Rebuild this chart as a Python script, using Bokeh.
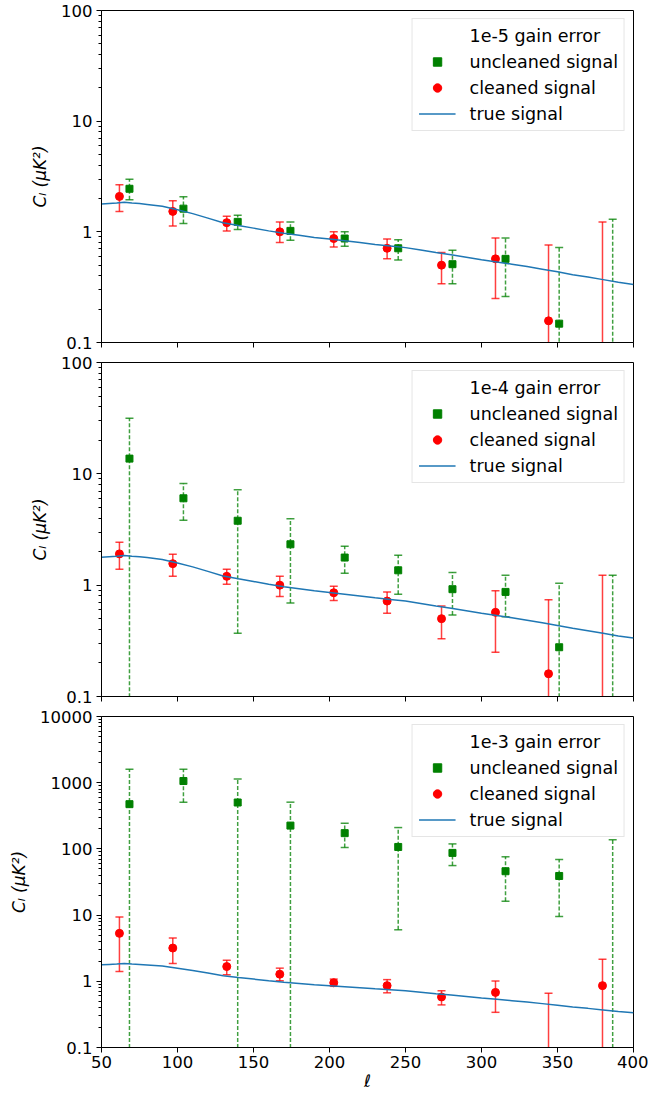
import math
from bokeh.plotting import figure
from bokeh.layouts import column
from bokeh.models import (ColumnDataSource, FixedTicker, CustomJSTickFormatter,
                          Legend, LegendItem, Range1d)
from bokeh.embed import file_html
from bokeh.resources import INLINE

FONT = "DejaVu Sans"

# ---------------- data ----------------
ell_red = [61.8, 96.9, 132.4, 167.3, 202.8, 237.9, 273.7, 309.2, 344.1, 379.6]
ell_green = [68.4, 103.9, 139.6, 174.3, 210.0, 245.2, 280.9, 315.8, 351.1, 386.3]

ell_true = [50, 55, 60, 65, 70, 75, 80, 90, 100, 110, 120, 130, 140, 150, 160, 170,
            180, 190, 200, 210, 220, 230, 240, 250, 260, 270, 280, 290, 300, 310,
            320, 330, 340, 350, 360, 370, 380, 390, 400]
cl_true = [1.78, 1.80, 1.82, 1.85, 1.82, 1.80, 1.77, 1.70, 1.58, 1.46, 1.33, 1.21,
           1.14, 1.08, 1.02, 0.97, 0.93, 0.89, 0.86, 0.83, 0.80, 0.77, 0.745, 0.72,
           0.685, 0.65, 0.62, 0.59, 0.56, 0.535, 0.51, 0.485, 0.46, 0.435, 0.41,
           0.39, 0.37, 0.35, 0.335]

# panel 1: 1e-5 gain error
p1_red_val = [2.09, 1.53, 1.21, 1.00, 0.87, 0.71, 0.50, 0.57, 0.157, 0.02]
p1_red_lo = [1.53, 1.13, 1.02, 0.80, 0.73, 0.57, 0.34, 0.25, 0.001, 0.001]
p1_red_hi = [2.66, 1.91, 1.38, 1.23, 1.00, 0.86, 0.65, 0.88, 0.76, 1.23]
p1_green_val = [2.45, 1.62, 1.23, 1.02, 0.87, 0.71, 0.51, 0.57, 0.148, 0.02]
p1_green_lo = [1.95, 1.19, 1.05, 0.84, 0.74, 0.556, 0.34, 0.26, 0.001, 0.001]
p1_green_hi = [2.99, 2.08, 1.41, 1.23, 1.00, 0.85, 0.68, 0.88, 0.72, 1.30]

# panel 2: 1e-4 gain error
p2_red_val = [1.91, 1.56, 1.20, 1.00, 0.855, 0.72, 0.50, 0.57, 0.16, 0.02]
p2_red_lo = [1.39, 1.20, 1.02, 0.79, 0.73, 0.56, 0.33, 0.25, 0.001, 0.001]
p2_red_hi = [2.43, 1.90, 1.39, 1.20, 0.98, 0.87, 0.65, 0.89, 0.74, 1.23]
p2_green_val = [13.7, 6.03, 3.79, 2.33, 1.77, 1.36, 0.92, 0.87, 0.277, 0.02]
p2_green_lo = [0.001, 3.82, 0.37, 0.69, 1.28, 0.83, 0.54, 0.52, 0.001, 0.001]
p2_green_hi = [31.6, 8.2, 7.2, 3.94, 2.24, 1.86, 1.30, 1.23, 1.04, 1.23]

# panel 3: 1e-3 gain error
p3_red_val = [5.3, 3.18, 1.67, 1.28, 0.95, 0.86, 0.58, 0.68, 0.02, 0.86]
p3_red_lo = [1.41, 1.86, 1.26, 1.02, 0.84, 0.67, 0.44, 0.34, 0.001, 0.001]
p3_red_hi = [9.4, 4.49, 2.08, 1.58, 1.08, 1.06, 0.72, 1.01, 0.66, 2.15]
p3_green_val = [474, 1060, 502, 225, 173, 107, 87, 46, 39, 0.02]
p3_green_lo = [0.001, 508, 0.001, 0.001, 105, 6.0, 56, 16.2, 9.5, 0.001]
p3_green_hi = [1600, 1600, 1135, 508, 244, 210, 119, 76, 69, 138]

titles = ["1e-5 gain error", "1e-4 gain error", "1e-3 gain error"]
y_ranges = [(0.1, 100), (0.1, 100), (0.1, 10000)]
x_ticks = [50, 100, 150, 200, 250, 300, 350, 400]

RED = "#ff0000"
GREEN = "#008000"
BLUE = "#1f77b4"
TICK_FS = "16.5px"
LEG_FS = "17.5px"


def make_panel(title, yr, red, green, height, top, bottom, show_x):
    p = figure(width=648, height=height,
               x_range=Range1d(50, 400), y_range=Range1d(*yr),
               y_axis_type="log", output_backend="svg", toolbar_location=None,
               min_border_left=101, min_border_right=15,
               min_border_top=top, min_border_bottom=bottom)
    p.xgrid.visible = False
    p.ygrid.visible = False
    p.outline_line_color = "black"
    p.outline_line_width = 1
    p.background_fill_color = "white"
    p.border_fill_color = "white"

    # y axis
    lo_e = int(round(math.log10(yr[0])))
    hi_e = int(round(math.log10(yr[1])))
    majors = [round(10.0 ** e, 6) for e in range(lo_e, hi_e + 1)]
    minors = [round(m * 10.0 ** e, 6) for e in range(lo_e, hi_e) for m in range(2, 10)]
    p.yaxis.ticker = FixedTicker(ticks=majors, minor_ticks=minors)
    p.yaxis.formatter = CustomJSTickFormatter(
        code="return tick >= 1 ? tick.toFixed(0) : tick.toString();")
    p.yaxis.axis_label = "Cₗ (μK²)"
    p.yaxis.axis_label_text_font = FONT
    p.yaxis.axis_label_text_font_size = "17px"
    p.yaxis.axis_label_text_font_style = "italic"
    p.yaxis.axis_label_text_color = "black"
    p.yaxis.axis_label_standoff = 8
    p.yaxis.major_label_text_font = FONT
    p.yaxis.major_label_text_font_size = TICK_FS
    p.yaxis.major_label_text_color = "black"
    p.yaxis.major_label_standoff = 4
    p.yaxis.major_tick_out = 5
    p.yaxis.major_tick_in = 0
    p.yaxis.minor_tick_out = 3
    p.yaxis.minor_tick_in = 0
    p.yaxis.axis_line_color = "black"
    p.yaxis.major_tick_line_color = "black"
    p.yaxis.minor_tick_line_color = "black"

    # x axis
    p.xaxis.ticker = FixedTicker(ticks=x_ticks)
    p.xaxis.minor_tick_line_color = None
    p.xaxis.major_tick_out = 5
    p.xaxis.major_tick_in = 0
    p.xaxis.axis_line_color = "black"
    p.xaxis.major_tick_line_color = "black"
    p.xaxis.major_label_text_font = FONT
    if show_x:
        p.xaxis.major_label_text_font_size = TICK_FS
        p.xaxis.major_label_text_color = "black"
        p.xaxis.major_label_standoff = 3
        p.xaxis.axis_label = "ℓ"
        p.xaxis.axis_label_text_font = FONT
        p.xaxis.axis_label_text_font_size = "17px"
        p.xaxis.axis_label_text_font_style = "italic"
        p.xaxis.axis_label_text_color = "black"
        p.xaxis.axis_label_standoff = 0
    else:
        p.xaxis.major_label_text_font_size = "1px"
        p.xaxis.major_label_text_color = None
        p.xaxis.major_label_standoff = 0

    g_src = ColumnDataSource(dict(x=ell_green, y=green[0], lo=green[1], hi=green[2]))
    r_src = ColumnDataSource(dict(x=ell_red, y=red[0], lo=red[1], hi=red[2]))

    # uncleaned (green, dashed error bars)
    p.segment(x0="x", y0="lo", x1="x", y1="hi", source=g_src, line_color=GREEN,
              line_width=1.5, line_dash="4 2", line_alpha=0.75)
    p.scatter(x="x", y="hi", source=g_src, marker="dash", size=8, line_color=GREEN,
              line_width=1.5, line_alpha=0.75)
    p.scatter(x="x", y="lo", source=g_src, marker="dash", size=8, line_color=GREEN,
              line_width=1.5, line_alpha=0.75)
    g_pts = p.scatter(x="x", y="y", source=g_src, marker="square", size=7,
                      fill_color=GREEN, line_color=GREEN)

    # cleaned (red, solid error bars)
    p.segment(x0="x", y0="lo", x1="x", y1="hi", source=r_src, line_color=RED,
              line_width=1.5, line_alpha=0.75)
    p.scatter(x="x", y="hi", source=r_src, marker="dash", size=8, line_color=RED,
              line_width=1.5, line_alpha=0.75)
    p.scatter(x="x", y="lo", source=r_src, marker="dash", size=8, line_color=RED,
              line_width=1.5, line_alpha=0.75)
    r_pts = p.scatter(x="x", y="y", source=r_src, marker="circle", size=8,
                      fill_color=RED, line_color=RED)

    # true signal
    t_line = p.line(x=ell_true, y=cl_true, line_color=BLUE, line_width=1.5)

    dummy = p.scatter(x=[], y=[], fill_alpha=0, line_alpha=0)

    legend = Legend(items=[
        LegendItem(label=title, renderers=[dummy]),
        LegendItem(label="uncleaned signal", renderers=[g_pts]),
        LegendItem(label="cleaned signal", renderers=[r_pts]),
        LegendItem(label="true signal", renderers=[t_line]),
    ])
    legend.location = "top_right"
    legend.margin = 8
    legend.padding = 6
    legend.spacing = 5
    legend.glyph_width = 37
    legend.glyph_height = 21
    legend.label_height = 21
    legend.label_standoff = 14
    legend.label_text_font = FONT
    legend.label_text_font_size = LEG_FS
    legend.label_text_color = "black"
    legend.border_line_color = "#cccccc"
    legend.border_line_width = 1
    legend.background_fill_color = "white"
    legend.background_fill_alpha = 0.8
    p.add_layout(legend)
    return p


p1 = make_panel(titles[0], y_ranges[0],
                (p1_red_val, p1_red_lo, p1_red_hi),
                (p1_green_val, p1_green_lo, p1_green_hi),
                352, 10, 10, False)
p2 = make_panel(titles[1], y_ranges[1],
                (p2_red_val, p2_red_lo, p2_red_hi),
                (p2_green_val, p2_green_lo, p2_green_hi),
                354, 10, 10, False)
p3 = make_panel(titles[2], y_ranges[2],
                (p3_red_val, p3_red_lo, p3_red_hi),
                (p3_green_val, p3_green_lo, p3_green_hi),
                387, 10, 46, True)

layout = column(p1, p2, p3, spacing=0)
open("out.html", "w").write(file_html(layout, INLINE))
